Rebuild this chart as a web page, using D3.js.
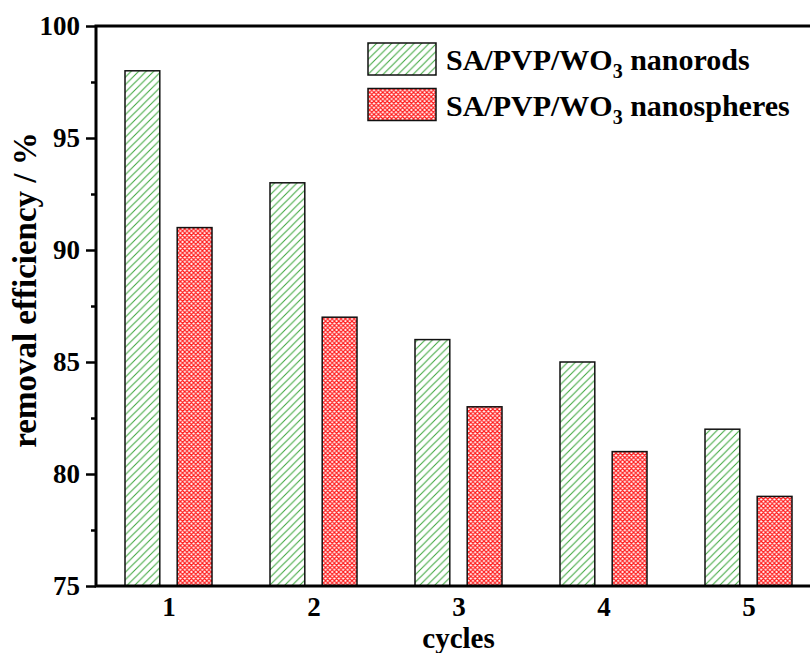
<!DOCTYPE html>
<html><head><meta charset="utf-8">
<script src="https://cdn.jsdelivr.net/npm/d3@7"></script>
<style>body{margin:0;background:#fff}svg{display:block}</style>
</head><body>
<script>
const cycles = [1, 2, 3, 4, 5];
const nanorods = [98, 93, 86, 85, 82];
const nanospheres = [91, 87, 83, 81, 79];
const yTicks = [75, 80, 85, 90, 95, 100];
const yMinorTicks = [77.5, 82.5, 87.5, 92.5, 97.5];
const seriesNames = ["SA/PVP/WO", "SA/PVP/WO"];
const seriesSuffix = [" nanorods", " nanospheres"];

const W = 810, H = 653;
const svg = d3.select("body").append("svg").attr("width", W).attr("height", H);
const font = "'Liberation Serif','Times New Roman',serif";

const x = d3.scaleLinear().domain([0.5, 5.5]).range([96, 821]);
const y = d3.scaleLinear().domain([75, 100]).range([586, 26]);

const defs = svg.append("defs");
const pg = defs.append("pattern").attr("id", "hatchG").attr("patternUnits", "userSpaceOnUse")
  .attr("width", 7.5).attr("height", 7.5);
pg.append("rect").attr("width", 7.5).attr("height", 7.5).attr("fill", "#fff");
pg.append("path").attr("d", "M-1,8.5 L8.5,-1 M-1,1 L1,-1 M6.5,8.5 L8.5,6.5")
  .attr("stroke", "#3aa53a").attr("stroke-width", 1);

const pr = defs.append("pattern").attr("id", "hatchR").attr("patternUnits", "userSpaceOnUse")
  .attr("width", 4.4).attr("height", 4.4);
pr.append("rect").attr("width", 4.4).attr("height", 4.4).attr("fill", "#fff");
pr.append("path").attr("d", "M-1,5.4 L5.4,-1 M-1,-1 L5.4,5.4 M-1,1 L1,-1 M3.4,5.4 L5.4,3.4 M3.4,-1 L5.4,1 M-1,3.4 L1,5.4")
  .attr("stroke", "#ff1a1a").attr("stroke-width", 1.2);

const fills = ["url(#hatchG)", "url(#hatchR)"];
const offsets = [[-0.30, -0.06], [0.06, 0.30]];
[nanorods, nanospheres].forEach((vals, s) => {
  svg.append("g").selectAll("rect").data(vals).join("rect")
    .attr("x", (d, i) => x(cycles[i] + offsets[s][0]))
    .attr("width", (d, i) => x(cycles[i] + offsets[s][1]) - x(cycles[i] + offsets[s][0]))
    .attr("y", d => y(d))
    .attr("height", d => y(75) - y(d))
    .attr("fill", fills[s])
    .attr("stroke", "#111").attr("stroke-width", 1.5);
});

// frame
svg.append("rect").attr("x", x(0.5)).attr("y", y(100))
  .attr("width", x(5.5) - x(0.5)).attr("height", y(75) - y(100))
  .attr("fill", "none").attr("stroke", "#000").attr("stroke-width", 3);

// y axis
const yAxis = d3.axisLeft(y).tickValues(yTicks).tickSize(10).tickPadding(6).tickFormat(d3.format("d"));
const gy = svg.append("g").attr("transform", `translate(${x(0.5)},0)`).call(yAxis);
gy.select(".domain").remove();
gy.selectAll(".tick line").attr("stroke", "#000").attr("stroke-width", 2.5);
gy.selectAll(".tick text").attr("font-family", font).attr("font-weight", "bold")
  .attr("font-size", 27).attr("fill", "#000");
const gyMinor = svg.append("g").attr("transform", `translate(${x(0.5)},0)`)
  .call(d3.axisLeft(y).tickValues(yMinorTicks).tickSize(5).tickFormat(""));
gyMinor.select(".domain").remove();
gyMinor.selectAll(".tick line").attr("stroke", "#000").attr("stroke-width", 2.5);

// x axis
const xAxis = d3.axisBottom(x).tickValues(cycles).tickSize(0).tickPadding(11).tickFormat(d3.format("d"));
const gx = svg.append("g").attr("transform", `translate(0,${y(75)})`).call(xAxis);
gx.select(".domain").remove();
gx.selectAll(".tick text").attr("font-family", font).attr("font-weight", "bold")
  .attr("font-size", 27).attr("fill", "#000");

// titles
svg.append("text").attr("x", x(3)).attr("y", 648).attr("text-anchor", "middle")
  .attr("font-family", font).attr("font-weight", "bold").attr("font-size", 29).text("cycles");
svg.append("text").attr("transform", "translate(36,290) rotate(-90)").attr("text-anchor", "middle")
  .attr("font-family", font).attr("font-weight", "bold").attr("font-size", 33).text("removal efficiency / %");

// legend
const lg = svg.append("g");
[0, 1].forEach(s => {
  const top = 43 + s * 45.5;
  lg.append("rect").attr("x", 368).attr("y", top).attr("width", 68).attr("height", 32)
    .attr("fill", fills[s]).attr("stroke", "#111").attr("stroke-width", 1.5);
  const t = lg.append("text").attr("x", 446).attr("y", top + 27)
    .attr("font-family", font).attr("font-weight", "bold").attr("font-size", 30);
  t.append("tspan").text(seriesNames[s]);
  t.append("tspan").attr("dy", 8).attr("font-size", 20).text("3");
  t.append("tspan").attr("dy", -8).text(seriesSuffix[s]);
});
</script>
</body></html>
